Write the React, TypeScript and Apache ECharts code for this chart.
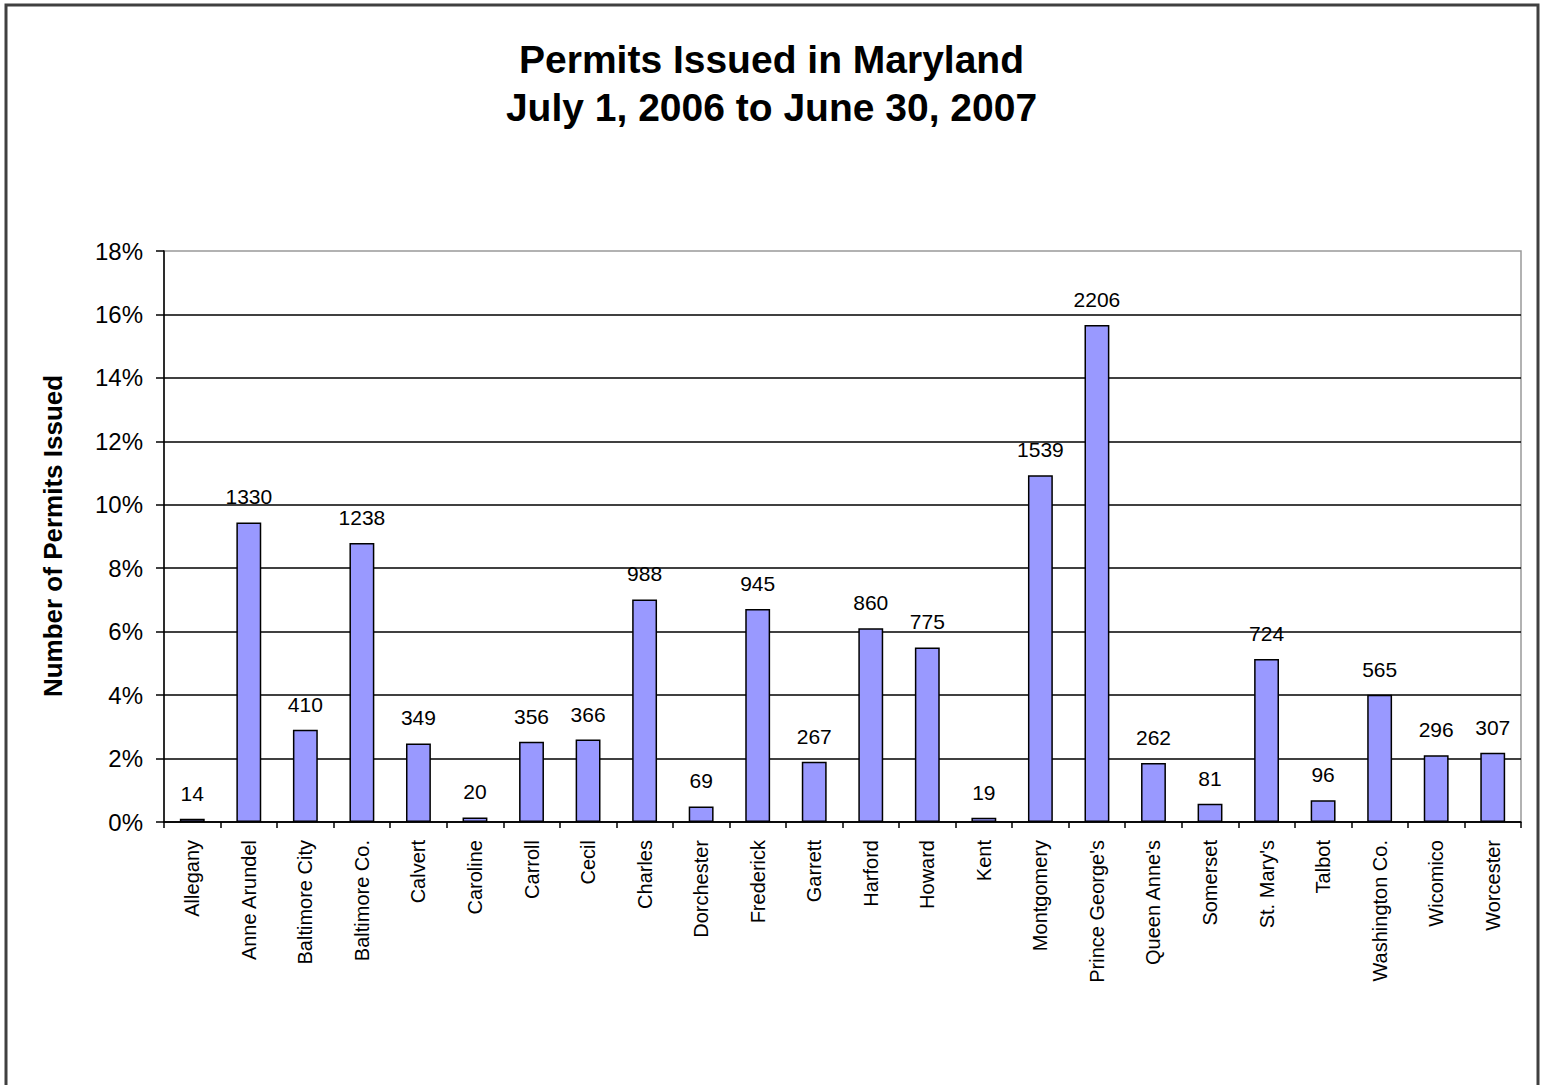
import React, { useEffect, useRef } from "react";
import * as echarts from "echarts";

const counties = [
  "Allegany", "Anne Arundel", "Baltimore City", "Baltimore Co.", "Calvert", "Caroline",
  "Carroll", "Cecil", "Charles", "Dorchester", "Frederick", "Garrett", "Harford", "Howard",
  "Kent", "Montgomery", "Prince George's", "Queen Anne's", "Somerset", "St. Mary's",
  "Talbot", "Washington Co.", "Wicomico", "Worcester",
];
const permits = [
  14, 1330, 410, 1238, 349, 20, 356, 366, 988, 69, 945, 267, 860, 775, 19, 1539, 2206,
  262, 81, 724, 96, 565, 296, 307,
];
const yTicks = { min: 0, max: 18, interval: 2 };
const titleLines = ["Permits Issued in Maryland", "July 1, 2006 to June 30, 2007"];
const yAxisTitle = "Number of Permits Issued";

const FONT = "'Liberation Sans', Arial, sans-serif";

export default function App() {
  const ref = useRef<HTMLDivElement>(null);
  useEffect(() => {
    if (!ref.current) return;
    const chart = echarts.init(ref.current, undefined, { renderer: "svg" });
    const total = permits.reduce((a, b) => a + b, 0);
    const shares = permits.map((v) => (v / total) * 100);
    chart.setOption({
      animation: false,
      backgroundColor: "#ffffff",
      title: {
        text: titleLines.join("\n"),
        left: "center",
        top: 30,
        textStyle: {
          fontFamily: FONT,
          fontSize: 39,
          fontWeight: "bold",
          lineHeight: 48,
          color: "#000",
        },
      },
      graphic: [
        {
          type: "rect",
          shape: { x: 6, y: 5, width: 1532, height: 1120 },
          style: { fill: "none", stroke: "#404040", lineWidth: 3 },
          silent: true,
        },
        {
          type: "text",
          x: 53,
          y: 536,
          rotation: Math.PI / 2,
          style: {
            text: yAxisTitle,
            fontFamily: FONT,
            fontSize: 26,
            fontWeight: "bold",
            fill: "#000",
            align: "center",
            verticalAlign: "middle",
          },
        },
      ],
      grid: {
        left: 164,
        right: 22,
        top: 251,
        bottom: 263,
        show: true,
        borderColor: "#999",
        borderWidth: 1.5,
      },
      xAxis: {
        type: "category",
        data: counties,
        axisLine: { show: true, lineStyle: { color: "#000", width: 1.5 } },
        axisTick: { show: true, length: 6, lineStyle: { color: "#000", width: 1.5 } },
        axisLabel: {
          interval: 0,
          rotate: 90,
          fontFamily: FONT,
          fontSize: 20,
          color: "#000",
          margin: 18,
        },
        splitLine: { show: false },
      },
      yAxis: {
        type: "value",
        min: yTicks.min,
        max: yTicks.max,
        interval: yTicks.interval,
        axisLine: { show: true, lineStyle: { color: "#000", width: 1.5 } },
        axisTick: { show: true, length: 8, lineStyle: { color: "#000", width: 1.5 } },
        axisLabel: {
          formatter: "{value}%",
          fontFamily: FONT,
          fontSize: 24,
          color: "#000",
          margin: 21,
        },
        splitLine: {
          show: true,
          showMaxLine: false,
          lineStyle: { color: "#000", width: 1.5 },
        },
      },
      series: [
        {
          type: "bar",
          data: shares,
          barWidth: "44%",
          itemStyle: { color: "#9999FF", borderColor: "#000", borderWidth: 1.5 },
          label: {
            show: true,
            position: "top",
            distance: 15,
            fontFamily: FONT,
            fontSize: 21,
            color: "#000",
            formatter: (p: any) => String(permits[p.dataIndex]),
          },
        },
      ],
    });
    return () => chart.dispose();
  }, []);
  return (
    <div
      ref={ref}
      style={{ position: "absolute", left: 0, top: 0, width: 1543, height: 1085 }}
    />
  );
}
